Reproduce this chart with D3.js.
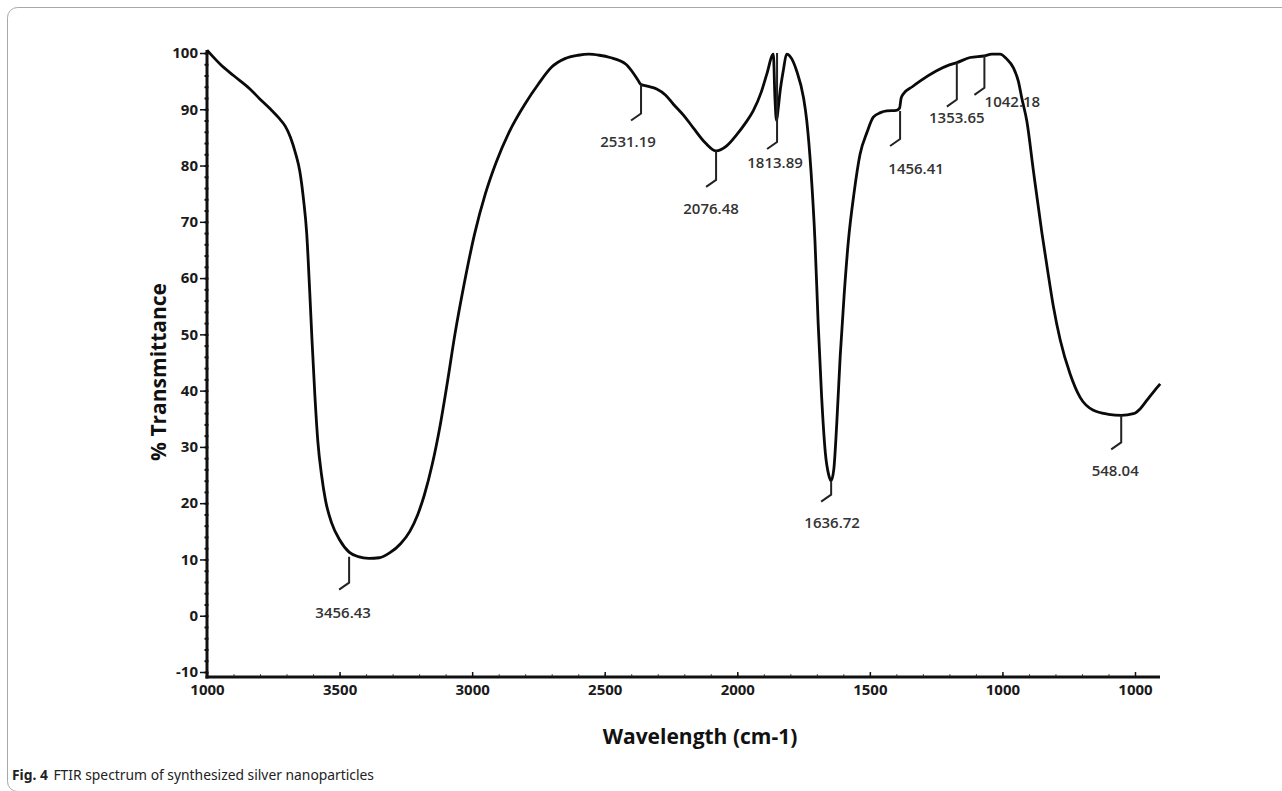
<!DOCTYPE html>
<html>
<head>
<meta charset="utf-8">
<script src="https://cdn.jsdelivr.net/npm/d3@7"></script>
<style>
  body { margin: 0; background: #fff; }
  svg { display: block; }
</style>
</head>
<body>
<div id="container"></div>
<script>
/* CONSTANTS AND GLOBALS */
const width = 1282,
  height = 791,
  axisX = 207,   // left edge of the plot (y axis)
  axisY = 677,   // bottom of the plot (x axis)
  plotRight = 1160

/* DATA */
// wavenumber (cm-1) of each sampled point on the spectrum
const wavenumbers = [
  4000, 3950, 3900, 3840, 3800, 3760, 3730, 3705, 3685, 3665, 3650, 3636, 3624, 3613,
  3604, 3593, 3582, 3568, 3553, 3530, 3500, 3464, 3430, 3390, 3350, 3310, 3270, 3235,
  3205, 3180, 3150, 3120, 3095, 3065, 3030, 2990, 2950, 2910, 2860, 2800, 2750, 2700,
  2650, 2600, 2560, 2520, 2480, 2420, 2398, 2375, 2363, 2340, 2304, 2270, 2241, 2200,
  2166, 2120, 2080, 2040, 2002, 1970, 1940, 1910, 1889, 1864, 1858, 1852, 1846, 1839,
  1826, 1814, 1795, 1776, 1750, 1738, 1722, 1707, 1695, 1682, 1668, 1655, 1646, 1636,
  1625, 1612, 1597, 1581, 1560, 1537, 1510, 1487, 1460, 1436, 1400, 1388, 1382, 1374,
  1340, 1311, 1250, 1200, 1172, 1122, 1068, 1040, 1009, 985, 959, 940, 927, 908,
  883, 851, 830, 808, 782, 745, 707, 657, 600, 552, 506, 480, 455, 430, 405
]
// % transmittance at each of those wavenumbers
const transmittance = [
  100.5, 98, 96, 93.7, 91.8, 90, 88.5, 87, 85, 82, 79, 74, 68, 58,
  49, 39, 31, 25, 20.5, 16.5, 13.5, 11.3, 10.5, 10.2, 10.3, 11.2, 12.8, 15,
  18, 21.5, 27, 34, 41, 50, 59, 68, 75, 80.5, 86, 91, 94.5, 97.5,
  99, 99.6, 99.8, 99.6, 99.2, 98, 96.8, 95.2, 94.4, 94.1, 93.6, 92.5, 90.9, 88.8,
  86.7, 84, 82.6, 83.5, 85.5, 87.5, 89.7, 93, 96.2, 99.8, 92, 88, 90, 93,
  97, 99.8, 99, 96.8, 92, 88, 79, 66.6, 52, 39, 29, 25, 24, 26,
  34, 46, 57, 66.6, 75, 82, 86, 88.6, 89.4, 89.7, 89.8, 90.2, 92, 92.7,
  94, 95, 96.8, 97.9, 98.3, 99.2, 99.5, 99.8, 99.8, 99, 97.4, 95, 92, 87.9,
  79, 68, 61.5, 55, 49, 43, 38.8, 36.5, 35.8, 35.6, 35.9, 36.8, 38.3, 39.8, 41.2
]

const xTickValues = [4000, 3500, 3000, 2500, 2000, 1500, 1000, 500]
const xTickLabels = ['1000', '3500', '3000', '2500', '2000', '1500', '1000', '1000']
const yTickValues = [100, 90, 80, 70, 60, 50, 40, 30, 20, 10, 0, -10]

// peak annotations: printed label, where the leader sits, and its % level
const peakLabels = ['3456.43', '2531.19', '2076.48', '1813.89', '1636.72', '1456.41', '1353.65', '1042.18', '548.04']
const peakWavenumbers = [3464, 2363, 2080, 1850, 1646, 1386, 1172, 1068, 552]
const peakLevels = [10.5, 94.4, 82.6, 100, 24, 89.7, 98.3, 99.5, 35.6]

// leader layout: [vertical length, label dx, label dy below leader end]
const leaderLayout = [
  [26, -6, 24], [29, -13, 22], [29, -5, 23], [89, -2, 15], [14, 1, 22],
  [28, 16, 24], [37, 0, 12], [32, 28, 8], [27, -6, 23]
]

/* SVG */
const svg = d3.select('#container')
  .append('svg')
  .attr('width', width)
  .attr('height', height)

// page frame with rounded corner
svg.append('rect')
  .attr('x', 7.5)
  .attr('y', 7.5)
  .attr('width', 1400)
  .attr('height', 784)
  .attr('rx', 10)
  .attr('fill', 'none')
  .attr('stroke', '#a8a8a8')
  .attr('stroke-width', 1)

/* SCALES */
const xScale = d3.scaleLinear()
  .domain([4000, 500])
  .range([axisX, 1135])

const yScale = d3.scaleLinear()
  .domain([-10, 100])
  .range([672, 53])

/* AXES */
// minor y ticks every 2 %
const yMinor = d3.axisLeft(yScale)
  .tickValues(d3.range(-10, 101, 2))
  .tickSize(4)
  .tickFormat('')

svg.append('g')
  .attr('transform', `translate(${axisX + 1.5}, 0)`)
  .call(yMinor)
  .call(g => g.select('.domain').remove())
  .call(g => g.selectAll('line').attr('stroke', '#111').attr('stroke-width', 2))

const yAxis = d3.axisLeft(yScale)
  .tickValues(yTickValues)
  .tickSize(7)
  .tickPadding(2)
  .tickFormat(d => String(d))

svg.append('g')
  .attr('transform', `translate(${axisX}, 0)`)
  .call(yAxis)
  .call(g => g.select('.domain').remove())
  .call(g => g.selectAll('line').attr('stroke', '#111').attr('stroke-width', 1.5))
  .call(g => g.selectAll('text')
    .attr('fill', '#1a1a1a')
    .style('font-family', '"Open Sans", sans-serif')
    .style('font-weight', 700)
    .style('font-size', '15px'))

// minor x ticks
const xMinor = d3.axisBottom(xScale)
  .tickValues(d3.range(4000, 400, -100))
  .tickSize(-3)
  .tickFormat('')

svg.append('g')
  .attr('transform', `translate(0, ${axisY})`)
  .call(xMinor)
  .call(g => g.select('.domain').remove())
  .call(g => g.selectAll('line').attr('stroke', '#555').attr('stroke-width', 1))

const xAxis = d3.axisBottom(xScale)
  .tickValues(xTickValues)
  .tickFormat((d, i) => xTickLabels[i])
  .tickSize(-5)
  .tickPadding(7)

svg.append('g')
  .attr('transform', `translate(0, ${axisY})`)
  .call(xAxis)
  .call(g => g.select('.domain').remove())
  .call(g => g.selectAll('line').attr('stroke', '#111').attr('stroke-width', 1.5))
  .call(g => g.selectAll('text')
    .attr('fill', '#1a1a1a')
    .style('font-family', '"Open Sans", sans-serif')
    .style('font-weight', 700)
    .style('font-size', '15px'))

// thick axis lines
svg.append('line')
  .attr('x1', axisX).attr('x2', axisX)
  .attr('y1', 50).attr('y2', axisY + 1.5)
  .attr('stroke', '#111').attr('stroke-width', 3)

svg.append('line')
  .attr('x1', axisX - 1.5).attr('x2', plotRight)
  .attr('y1', axisY).attr('y2', axisY)
  .attr('stroke', '#111').attr('stroke-width', 3)

/* AXIS LABELS */
svg.append('text')
  .attr('transform', `translate(160, 372) rotate(-90)`)
  .attr('text-anchor', 'middle')
  .attr('dominant-baseline', 'middle')
  .style('font-family', '"Open Sans", sans-serif')
  .style('font-weight', 700)
  .style('font-size', '21px')
  .attr('fill', '#111')
  .text('% Transmittance')

svg.append('text')
  .attr('x', 700)
  .attr('y', 744)
  .attr('text-anchor', 'middle')
  .style('font-family', '"Open Sans", sans-serif')
  .style('font-weight', 700)
  .style('font-size', '21px')
  .attr('fill', '#111')
  .text('Wavelength (cm-1)')

/* SPECTRUM */
const points = wavenumbers.map((w, i) => ({ w: w, t: transmittance[i] }))

const line = d3.line()
  .x(d => xScale(d.w))
  .y(d => yScale(d.t))
  .curve(d3.curveMonotoneX)

svg.append('path')
  .datum(points)
  .attr('d', line)
  .attr('fill', 'none')
  .attr('stroke', '#0a0a0a')
  .attr('stroke-width', 2.8)
  .attr('stroke-linejoin', 'round')

/* PEAK LEADERS */
const peaks = peakLabels.map((label, i) => ({
  label: label,
  w: peakWavenumbers[i],
  t: peakLevels[i],
  len: leaderLayout[i][0],
  dx: leaderLayout[i][1],
  dy: leaderLayout[i][2]
}))

const leader = svg.selectAll('g.peak')
  .data(peaks)
  .join('g')
  .attr('class', 'peak')
  .attr('transform', d => `translate(${xScale(d.w)}, ${yScale(d.t)})`)

leader.append('path')
  .attr('d', d => `M0,0 V${d.len} L-10,${d.len + 7}`)
  .attr('fill', 'none')
  .attr('stroke', '#222')
  .attr('stroke-width', 2)

leader.append('text')
  .attr('x', d => d.dx)
  .attr('y', d => d.len + 7 + d.dy)
  .attr('text-anchor', 'middle')
  .attr('dominant-baseline', 'middle')
  .style('font-family', '"Open Sans", sans-serif')
  .style('font-weight', 600)
  .style('font-size', '15px')
  .attr('fill', '#333')
  .text(d => d.label)

/* CAPTION */
const caption = svg.append('text')
  .attr('x', 12)
  .attr('y', 780)
  .attr('textLength', 362)
  .attr('lengthAdjust', 'spacingAndGlyphs')
  .style('font-family', '"Noto Sans", sans-serif')
  .style('font-size', '15px')
  .attr('fill', '#222')

caption.append('tspan')
  .style('font-weight', 700)
  .text('Fig. 4')

caption.append('tspan')
  .attr('dx', 6)
  .text('FTIR spectrum of synthesized silver nanoparticles')
</script>
</body>
</html>
